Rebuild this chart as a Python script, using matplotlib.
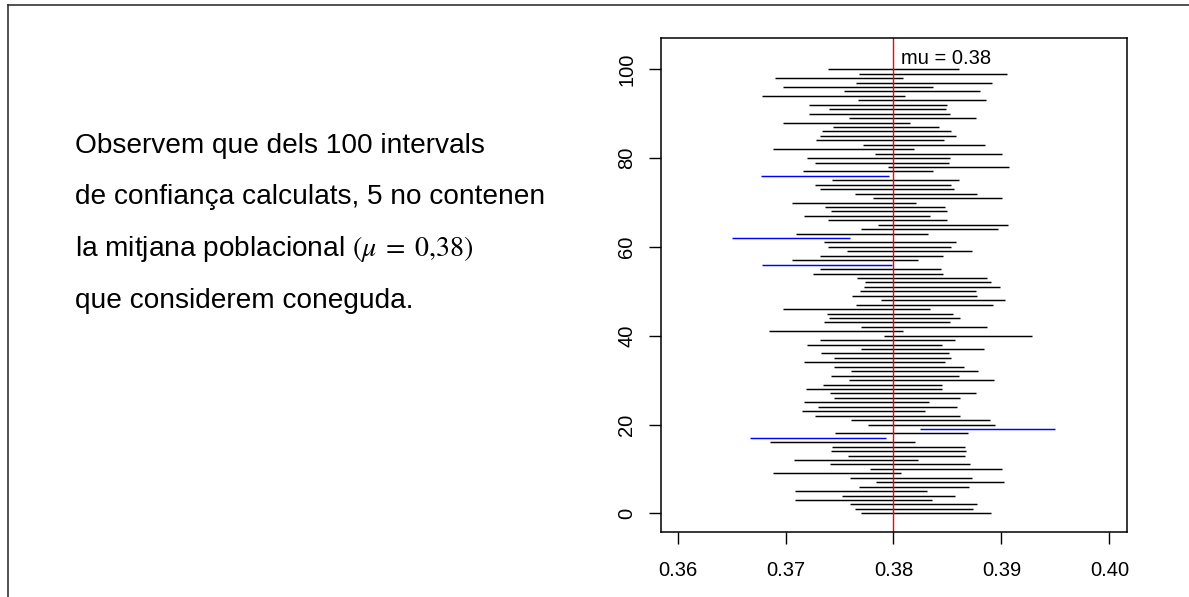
import numpy as np
import matplotlib
matplotlib.use("Agg")
import matplotlib.pyplot as plt
from matplotlib.lines import Line2D

plt.rcParams['font.family'] = ['Liberation Sans', 'DejaVu Sans']
plt.rcParams['mathtext.fontset'] = 'stix'

# ---- data: confidence interval bounds (bottom to top) ----
lower = [0.3770, 0.3764, 0.3760, 0.3709, 0.3752, 0.3709, 0.3768, 0.3784, 0.3760, 0.3688,
         0.3778, 0.3741, 0.3708, 0.3758, 0.3742, 0.3743, 0.3686, 0.3667, 0.3746, 0.3825,
         0.3776, 0.3761, 0.3727, 0.3715, 0.3730, 0.3717, 0.3745, 0.3741, 0.3719, 0.3735,
         0.3759, 0.3742, 0.3761, 0.3745, 0.3717, 0.3745, 0.3733, 0.3770, 0.3720, 0.3732,
         0.3791, 0.3685, 0.3770, 0.3736, 0.3740, 0.3738, 0.3698, 0.3765, 0.3788, 0.3762,
         0.3769, 0.3773, 0.3774, 0.3766, 0.3725, 0.3732, 0.3678, 0.3706, 0.3732, 0.3757,
         0.3739, 0.3736, 0.3650, 0.3710, 0.3770, 0.3786, 0.3739, 0.3717, 0.3742, 0.3737,
         0.3706, 0.3781, 0.3764, 0.3732, 0.3727, 0.3743, 0.3677, 0.3716, 0.3795, 0.3727,
         0.3720, 0.3783, 0.3688, 0.3772, 0.3728, 0.3732, 0.3734, 0.3744, 0.3698, 0.3759,
         0.3722, 0.3740, 0.3722, 0.3767, 0.3678, 0.3754, 0.3698, 0.3765, 0.3690, 0.3768,
         0.3739]
upper = [0.3890, 0.3874, 0.3877, 0.3836, 0.3857, 0.3831, 0.3870, 0.3902, 0.3873, 0.3807,
         0.3901, 0.3871, 0.3823, 0.3866, 0.3867, 0.3866, 0.3820, 0.3793, 0.3869, 0.3950,
         0.3894, 0.3889, 0.3862, 0.3829, 0.3859, 0.3833, 0.3862, 0.3876, 0.3845, 0.3845,
         0.3893, 0.3861, 0.3878, 0.3865, 0.3848, 0.3853, 0.3851, 0.3884, 0.3845, 0.3857,
         0.3928, 0.3809, 0.3887, 0.3852, 0.3862, 0.3855, 0.3834, 0.3892, 0.3903, 0.3877,
         0.3876, 0.3899, 0.3890, 0.3887, 0.3846, 0.3844, 0.3799, 0.3823, 0.3846, 0.3873,
         0.3853, 0.3858, 0.3760, 0.3832, 0.3897, 0.3906, 0.3850, 0.3834, 0.3850, 0.3848,
         0.3821, 0.3901, 0.3877, 0.3856, 0.3853, 0.3861, 0.3796, 0.3837, 0.3907, 0.3851,
         0.3852, 0.3901, 0.3819, 0.3885, 0.3847, 0.3858, 0.3853, 0.3842, 0.3815, 0.3876,
         0.3852, 0.3849, 0.3850, 0.3886, 0.3811, 0.3880, 0.3837, 0.3891, 0.3809, 0.3905,
         0.3861]
mu = 0.38
x_ticks = [0.36, 0.37, 0.38, 0.39, 0.40]
x_tick_labels = ["0.36", "0.37", "0.38", "0.39", "0.40"]
y_ticks = [0, 20, 40, 60, 80, 100]
y_tick_labels = ["0", "20", "40", "60", "80", "100"]
text_lines = ["Observem que dels 100 intervals",
              "de confiança calculats, 5 no contenen",
              r"la mitjana poblacional $(\mu\;=\;0{,}38)$",
              "que considerem coneguda."]

W, H = 1189, 597
fig = plt.figure(figsize=(W / 100, H / 100), dpi=100)
fig.patch.set_facecolor('white')

ax = fig.add_axes([660.7 / W, 1 - 531.7 / H, (1126.7 - 660.7) / W, (531.7 - 38.3) / H])

lo = np.array(lower)
hi = np.array(upper)
ys = np.arange(len(lo))
miss = (lo > mu) | (hi < mu)
colors = np.where(miss, '#0000FF', '#000000')
ax.hlines(ys, lo, hi, colors=colors, linewidth=1.05)
ax.axvline(mu, color='#FF0000', linewidth=1.0)
ax.text(0.3807, 101.2, "mu = 0.38", fontsize=14.5, ha='left', va='baseline')

ax.set_xlim(0.35843, 0.40161)
ax.set_ylim(-4.14, 106.98)
ax.set_xticks(x_ticks)
ax.set_xticklabels(x_tick_labels)
ax.set_yticks(y_ticks)
ax.set_yticklabels(y_tick_labels, rotation=90, va='center')
ax.tick_params(axis='both', direction='out', length=8.6, width=1.0, labelsize=14.5, color='black')
ax.tick_params(axis='x', pad=12.5)
ax.tick_params(axis='y', pad=9)
for s in ax.spines.values():
    s.set_linewidth(1.1)
    s.set_color('black')

# explanatory text
baselines = [152.7, 204.3, 256.0, 307.7]
for line, b in zip(text_lines, baselines):
    fig.text(75 / W, 1 - b / H, line, fontsize=20.2, ha='left', va='baseline')

# outer frame (left and top edges)
fig.add_artist(Line2D([8.3 / W, 8.3 / W], [0, 1 - 5.3 / H], transform=fig.transFigure,
                      color='#222222', linewidth=1.1))
fig.add_artist(Line2D([8.3 / W, 1], [1 - 5.3 / H, 1 - 5.3 / H], transform=fig.transFigure,
                      color='#222222', linewidth=1.1))

fig.savefig("out.png", dpi=100, facecolor='white')
